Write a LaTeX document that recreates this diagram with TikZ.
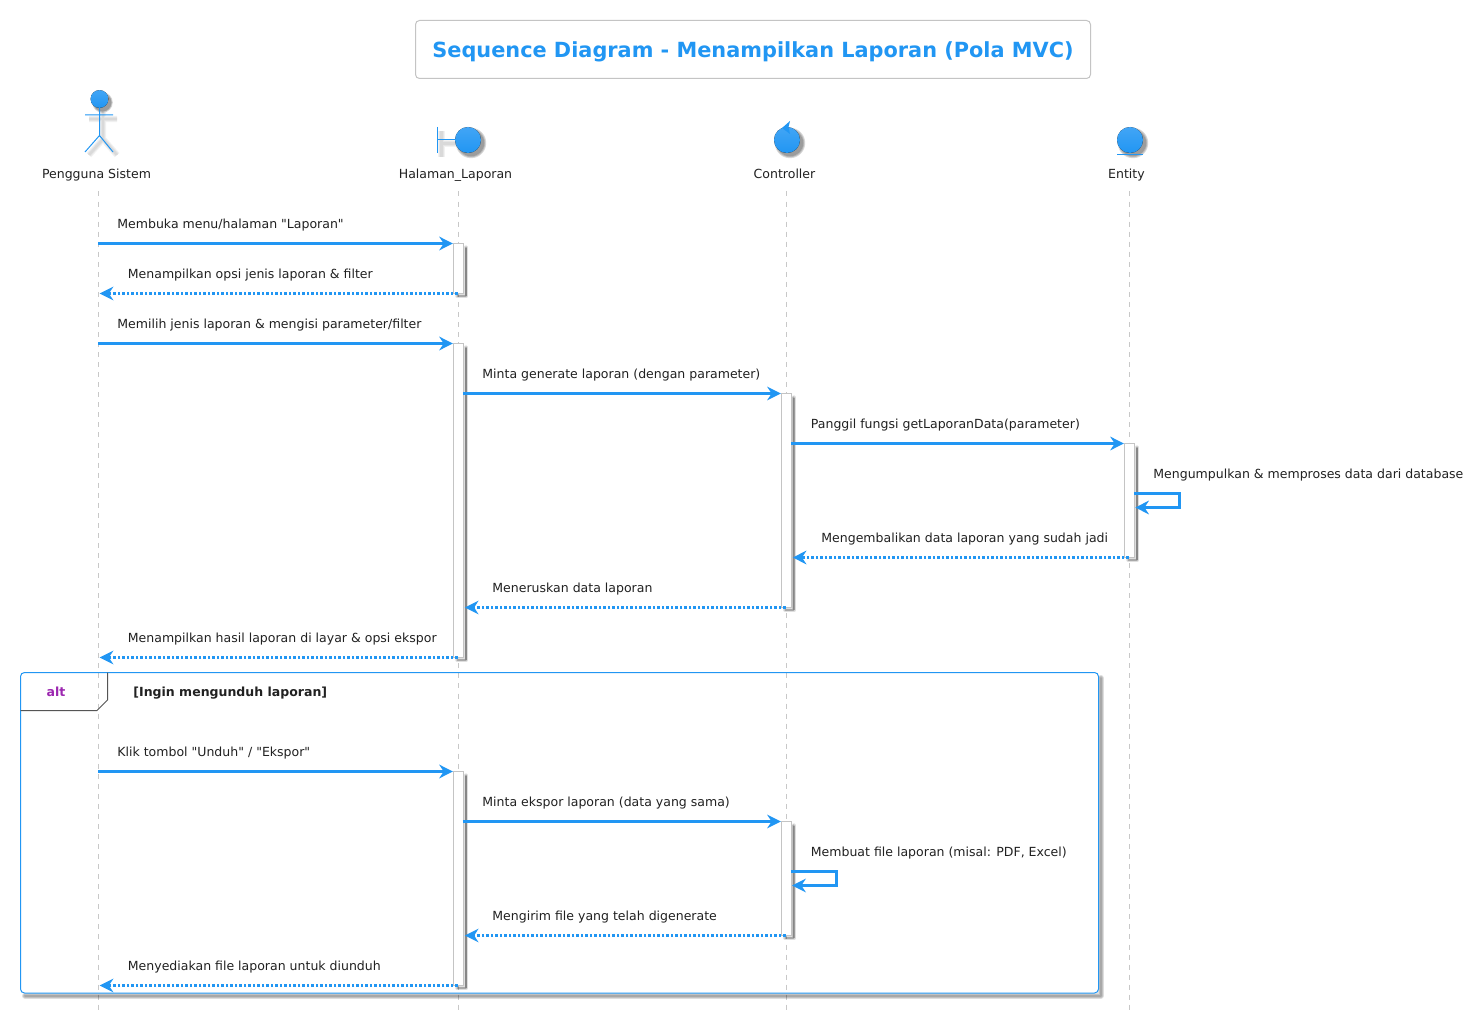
\documentclass[tikz,border=0pt]{standalone}
\usepackage{fontspec}
\setmainfont{DejaVu Sans}[Ligatures=TeXOff]
\usetikzlibrary{arrows.meta,calc}
\definecolor{mblue}{HTML}{2196F3}
\definecolor{lblue}{HTML}{42A5F5}
\definecolor{lifegray}{HTML}{C8C8C8}
\definecolor{boxgray}{HTML}{C4C4C4}
\definecolor{txt}{HTML}{212121}
\definecolor{purp}{HTML}{9C27B0}
\definecolor{tabgray}{HTML}{555555}
\tikzset{
  x=0.5pt,y=-0.5pt,
  lifeline/.style={draw=lifegray,line width=0.5pt,dash pattern=on 2.5pt off 2.52pt},
  msg/.style={draw=mblue,line width=1.5pt,-{Stealth[length=6.8pt,width=6.8pt,inset=2.2pt]}},
  ret/.style={msg,dash pattern=on 1.3pt off 0.95pt},
  lbl/.style={anchor=base west,inner sep=0pt,font=\fontsize{6.26pt}{7pt}\selectfont,text=txt},
  actorlbl/.style={anchor=base,inner sep=0pt,font=\fontsize{6.26pt}{7pt}\selectfont,text=txt},
  act/.style={draw=boxgray,fill=white,line width=0.5pt,inner sep=0pt,outer sep=0pt,minimum width=5pt},
  shadowline/.style={draw=black,opacity=0.13,line cap=round,line join=round},
  figline/.style={draw=mblue,line width=0.5pt},
  ball/.style={top color=lblue,bottom color=mblue,draw=none},
}
% activation: name, lifeline x, top y, bottom y
\newcommand\actbar[4]{%
  \foreach \w in {2.2,1.4,0.6}{
    \draw[shadowline,line width=\w pt] (#2+7.5,#3+4) -- (#2+7.5,#4+2.5) -- (#2-1,#4+2.5);
  }
  \draw[draw=black,opacity=.2,line width=1pt] (#2+7.5,#3+4) -- (#2+7.5,#4+2);
  \node[act,minimum height={(#4-#3)*0.5pt}] (#1) at (#2+0.5,{(#3+#4)/2}) {};
}
% shaded ball with soft shadow: x, y
\newcommand\shadedball[2]{%
  \foreach \w in {2.2,1.2,0.3}{
    \fill[black,opacity=0.15] (#1+3,#2+3) circle[radius=13+\w];
  }
  \fill[ball] (#1,#2) circle[radius=13];
}
\begin{document}
\begin{tikzpicture}
\useasboundingbox (0,0) rectangle (1474,1022);
\fill[white] (0,0) rectangle (1474,1022);

% title
\node[draw=boxgray,rounded corners=2pt,line width=0.5pt,minimum width=337.5pt,minimum height=29pt,inner sep=0pt] (titlebox) at (753,49.5) {};
\node[inner sep=0pt,text=mblue,font=\fontsize{10.42pt}{13pt}\selectfont\bfseries] (title) at (753,51.5) {Sequence Diagram - Menampilkan Laporan (Pola MVC)};

% actor
\foreach \w in {3.2,2.2,1.2}{
  \draw[draw=black,opacity=0.05,line width=\w pt] (89,119) -- (117,119) (103,112) -- (103,139) -- (89,155) (103,139) -- (117,155);
}
\foreach \w in {1.6,0.8,0.2}{\fill[black,opacity=0.15] (102.5,102.5) circle[radius=8.7+\w];}
\draw[figline] (85,115) -- (113,115) (99.5,108) -- (99.5,135.5) -- (85,152) (99.5,135.5) -- (113,152);
\fill[ball] (99.5,99) circle[radius=8.9];
\node[actorlbl] (userL) at (96.5,178.2) {Pengguna Sistem};

% boundary
\foreach \w in {3.2,2.2,1.2}{
  \draw[draw=black,opacity=0.05,line width=\w pt] (441.5,131) -- (441.5,157) (441.5,143.5) -- (459,143.5);
}
\draw[figline] (437.5,127) -- (437.5,153) (437.5,139.5) -- (456,139.5);
\shadedball{468}{140}
\node[actorlbl] (pageL) at (455.5,178.2) {Halaman\_Laporan};

% control
\shadedball{787}{140}
\fill[mblue] (790,121) -- (782,128) -- (790,134) -- (788.5,127) -- cycle;
\node[actorlbl] (ctrlL) at (784.5,178.2) {Controller};

% entity
\shadedball{1130}{140}
\draw[draw=mblue,line width=0.5pt] (1117,154.5) -- (1143,154.5);
\node[actorlbl] (entL) at (1126.5,178.2) {Entity};

% lifelines
\coordinate (uT) at (98.3,191.5); \coordinate (uB) at (98.3,1010);
\coordinate (pT) at (458.4,191.5); \coordinate (pB) at (458.4,1010);
\coordinate (cT) at (786.3,191.5); \coordinate (cB) at (786.3,1010);
\coordinate (eT) at (1129.4,191.5); \coordinate (eB) at (1129.4,1010);
\draw[lifeline] (uT) -- (uB);
\draw[lifeline] (pT) -- (pB);
\draw[lifeline] (cT) -- (cB);
\draw[lifeline] (eT) -- (eB);

% alt frame
\foreach \w in {3,2,1}{
  \draw[shadowline,line width=\w pt] (1100.5,678) -- (1100.5,995.5) -- (25,995.5);
}
\draw[draw=mblue,line width=0.5pt,rounded corners=2pt] (20.5,672.5) rectangle (1098.5,993) ;
\coordinate (tabT) at (107.5,672.5);
\coordinate (tabK) at (107.5,700);
\coordinate (tabD) at (97,710.5);
\coordinate (tabL) at (20.5,710.5);
\draw[draw=tabgray,line width=0.5pt] (tabT) -- (tabK) -- (tabD) -- (tabL);
\node[inner sep=0pt,text=purp,font=\fontsize{6.26pt}{7pt}\selectfont\bfseries] (altL) at (56,692.2) {alt};
\node[lbl,font=\fontsize{6.26pt}{7pt}\selectfont\bfseries] (cond) at (133,696.7) {[Ingin mengunduh laporan]};

% activations
\actbar{a1}{458.4}{243.5}{293.5}
\actbar{a2}{458.4}{343.5}{657.5}
\actbar{c1}{786.3}{393.5}{607.5}
\actbar{e1}{1129.4}{443.5}{557.5}
\actbar{a3}{458.4}{771.5}{985.5}
\actbar{c2}{786.3}{821.5}{935.5}

% messages
\node[lbl] (l1) at (117,228.7) {Membuka menu/halaman "Laporan"};
\draw[msg] (uT |- a1.north west) -- ([xshift=-0.5pt]a1.north west);
\node[lbl] (l2) at (127.5,278.7) {Menampilkan opsi jenis laporan \& filter};
\draw[ret] ([xshift=2pt]a1.south west) -- ([xshift=0.7pt]uT |- a1.south west);
\node[lbl] (l3) at (117,328.7) {Memilih jenis laporan \& mengisi parameter/filter};
\draw[msg] (uT |- a2.north west) -- ([xshift=-0.5pt]a2.north west);
\node[lbl] (l4) at (482,378.7) {Minta generate laporan (dengan parameter)};
\draw[msg] ([xshift=-0.5pt]a2.east |- c1.north west) -- ([xshift=-0.5pt]c1.north west);
\node[lbl] (l5) at (810.5,428.7) {Panggil fungsi getLaporanData(parameter)};
\draw[msg] ([xshift=-0.5pt]c1.east |- e1.north west) -- ([xshift=-0.5pt]e1.north west);
\node[lbl] (l6) at (1153,478.7) {Mengumpulkan \& memproses data dari database};
\coordinate (s1a) at ($(e1.east |- 0,493.5)+(-0.5pt,0)$);
\coordinate (s1b) at ($(e1.east |- 0,507.5)+(0.2pt,0)$);
\draw[msg] (s1a) -- (1179.5,493.5) -- (1179.5,507.5) -- (s1b);
\node[lbl] (l7) at (821,542.7) {Mengembalikan data laporan yang sudah jadi};
\draw[ret] ([xshift=2pt]e1.south west |- e1.south) -- ([xshift=0.5pt]c1.east |- e1.south);
\node[lbl] (l8) at (492,592.7) {Meneruskan data laporan};
\draw[ret] ([xshift=2pt]c1.south west) -- ([xshift=0.5pt]a2.east |- c1.south);
\node[lbl] (l9) at (127.5,642.7) {Menampilkan hasil laporan di layar \& opsi ekspor};
\draw[ret] ([xshift=2pt]a2.south west) -- ([xshift=0.7pt]uT |- a2.south west);
\node[lbl] (l10) at (117,756.7) {Klik tombol "Unduh" / "Ekspor"};
\draw[msg] (uT |- a3.north west) -- ([xshift=-0.5pt]a3.north west);
\node[lbl] (l11) at (482,806.7) {Minta ekspor laporan (data yang sama)};
\draw[msg] ([xshift=-0.5pt]a3.east |- c2.north west) -- ([xshift=-0.5pt]c2.north west);
\node[lbl] (l12) at (810.5,856.7) {Membuat file laporan (misal: PDF, Excel)};
\coordinate (s2a) at ($(c2.east |- 0,871.5)+(-0.5pt,0)$);
\coordinate (s2b) at ($(c2.east |- 0,885.5)+(0.2pt,0)$);
\draw[msg] (s2a) -- (836.5,871.5) -- (836.5,885.5) -- (s2b);
\node[lbl] (l13) at (492,920.7) {Mengirim file yang telah digenerate};
\draw[ret] ([xshift=2pt]c2.south west) -- ([xshift=0.5pt]a3.east |- c2.south);
\node[lbl] (l14) at (127.5,970.7) {Menyediakan file laporan untuk diunduh};
\draw[ret] ([xshift=2pt]a3.south west) -- ([xshift=0.7pt]uT |- a3.south west);
\end{tikzpicture}
\end{document}
